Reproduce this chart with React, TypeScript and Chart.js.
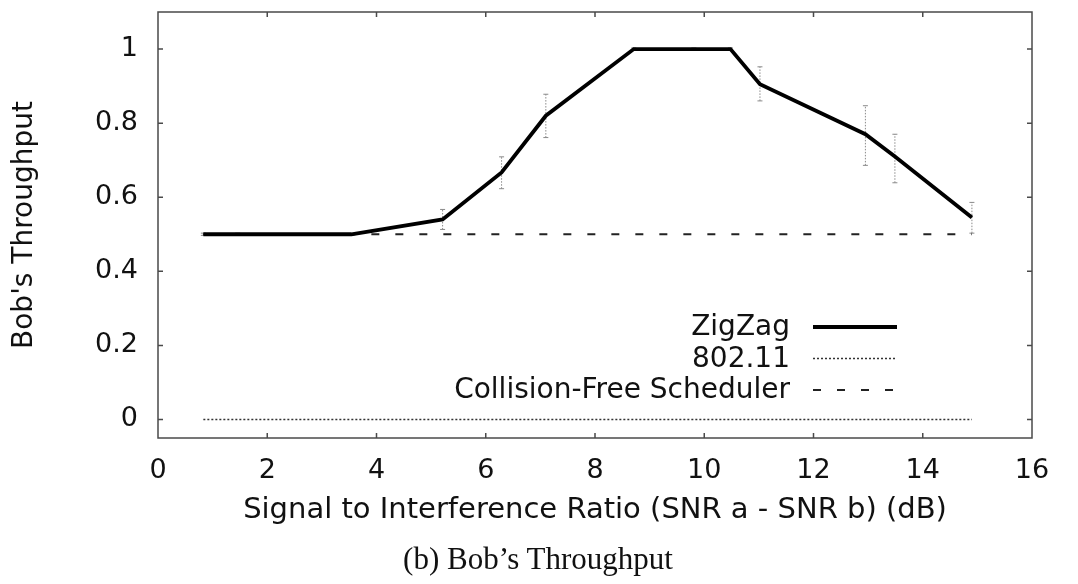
import React, { useEffect, useRef } from "react";
import { Chart, registerables } from "chart.js";

Chart.register(...registerables);

// ---- data ----
const snrValues = [0.83, 1.46, 3.54, 5.21, 6.29, 7.1, 8.71, 9.81, 10.48, 11.02, 12.95, 13.49, 14.9];
const zigzagValues = [0.5, 0.5, 0.5, 0.54, 0.667, 0.82, 1.0, 1.0, 1.0, 0.905, 0.77, 0.71, 0.545];
const zigzagErrLow = [0.497, 0.497, 0.498, 0.513, 0.623, 0.761, 0.997, 0.997, 0.997, 0.86, 0.686, 0.639, 0.503];
const zigzagErrHigh = [0.503, 0.503, 0.502, 0.567, 0.709, 0.878, 1.003, 1.003, 1.003, 0.952, 0.847, 0.77, 0.586];
const wifiValues = [0, 0, 0, 0, 0, 0, 0, 0, 0, 0, 0, 0, 0];
const schedulerValues = [0.5, 0.5, 0.5, 0.5, 0.5, 0.5, 0.5, 0.5, 0.5, 0.5, 0.5, 0.5, 0.5];
const seriesLabels = ["ZigZag", "802.11", "Collision-Free Scheduler"];
const xTickValues = [0, 2, 4, 6, 8, 10, 12, 14, 16];
const yTickValues = [0, 0.2, 0.4, 0.6, 0.8, 1];
const xTitle = "Signal to Interference Ratio (SNR a - SNR b) (dB)";
const yTitle = "Bob's Throughput";
const caption = "(b) Bob\u2019s Throughput";

const SANS = "'DejaVu Sans', 'Liberation Sans', Arial, sans-serif";
const SERIF = "'Liberation Serif', 'Times New Roman', serif";

const pts = (ys: number[]) => snrValues.map((x, i) => ({ x, y: ys[i] }));

const frameAndTicks = {
  id: "frameAndTicks",
  afterDatasetsDraw(chart: any) {
    const { ctx, chartArea: a, scales } = chart;
    const xs = scales.x;
    const ys = scales.y;
    ctx.save();
    ctx.strokeStyle = "#4a4a4a";
    ctx.lineWidth = 1.5;
    ctx.setLineDash([]);
    ctx.strokeRect(a.left, a.top, a.right - a.left, a.bottom - a.top);
    const L = 5;
    ctx.beginPath();
    xTickValues.forEach((v) => {
      const px = xs.getPixelForValue(v);
      if (px <= a.left + 1 || px >= a.right - 1) return;
      ctx.moveTo(px, a.bottom);
      ctx.lineTo(px, a.bottom - L);
      ctx.moveTo(px, a.top);
      ctx.lineTo(px, a.top + L);
    });
    yTickValues.forEach((v) => {
      const py = ys.getPixelForValue(v);
      ctx.moveTo(a.left, py);
      ctx.lineTo(a.left + L, py);
      ctx.moveTo(a.right, py);
      ctx.lineTo(a.right - L, py);
    });
    ctx.stroke();
    ctx.restore();
  },
};

const errorBars = {
  id: "errorBars",
  beforeDatasetsDraw(chart: any) {
    const { ctx, scales } = chart;
    const xs = scales.x;
    const ys = scales.y;
    ctx.save();
    ctx.strokeStyle = "#8a8a8a";
    ctx.lineWidth = 1;
    snrValues.forEach((x, i) => {
      const px = xs.getPixelForValue(x);
      const lo = ys.getPixelForValue(zigzagErrLow[i]);
      const hi = ys.getPixelForValue(zigzagErrHigh[i]);
      ctx.setLineDash([1.5, 1.5]);
      ctx.beginPath();
      ctx.moveTo(px, lo);
      ctx.lineTo(px, hi);
      ctx.stroke();
      ctx.setLineDash([]);
      ctx.beginPath();
      ctx.moveTo(px - 2.5, lo);
      ctx.lineTo(px + 2.5, lo);
      ctx.moveTo(px - 2.5, hi);
      ctx.lineTo(px + 2.5, hi);
      ctx.stroke();
    });
    ctx.restore();
  },
};

const insideLegend = {
  id: "insideLegend",
  afterDraw(chart: any) {
    const { ctx, chartArea: a } = chart;
    const sampleEnd = a.right - 135;
    const sampleStart = sampleEnd - 84;
    const textRight = sampleStart - 23;
    const top = a.top + 315;
    const step = 31.5;
    ctx.save();
    ctx.font = `28px ${SANS}`;
    ctx.fillStyle = "#111";
    ctx.textAlign = "right";
    ctx.textBaseline = "middle";
    chart.data.datasets.forEach((ds: any, i: number) => {
      const y = top + i * step;
      ctx.fillText(ds.label, textRight, y + 1);
      ctx.strokeStyle = ds.borderColor;
      ctx.lineWidth = ds.borderWidth;
      ctx.setLineDash(ds.borderDash || []);
      ctx.beginPath();
      ctx.moveTo(sampleStart, y);
      ctx.lineTo(sampleEnd, y);
      ctx.stroke();
    });
    ctx.restore();
  },
};

export default function App() {
  const ref = useRef<HTMLCanvasElement | null>(null);
  useEffect(() => {
    if (!ref.current) return;
    const chart = new Chart(ref.current, {
      type: "line",
      data: {
        datasets: [
          {
            label: seriesLabels[0],
            data: pts(zigzagValues),
            borderColor: "#000",
            borderWidth: 3.8,
            pointRadius: 0,
            tension: 0,
          },
          {
            label: seriesLabels[1],
            data: pts(wifiValues),
            borderColor: "#333",
            borderWidth: 1.5,
            borderDash: [2, 2],
            pointRadius: 0,
          },
          {
            label: seriesLabels[2],
            data: pts(schedulerValues),
            borderColor: "#222",
            borderWidth: 2,
            borderDash: [8, 16],
            pointRadius: 0,
          },
        ],
      },
      options: {
        responsive: false,
        animation: false,
        layout: { padding: { left: 0, right: 46, top: 12, bottom: 44 } },
        plugins: {
          legend: { display: false },
          tooltip: { enabled: false },
          title: { display: false },
        },
        scales: {
          x: {
            type: "linear",
            min: 0,
            max: 16,
            afterBuildTicks: (s: any) => {
              s.ticks = xTickValues.map((v) => ({ value: v }));
            },
            afterFit: (s: any) => {
              s.height = 102;
              s.paddingLeft = 0;
              s.paddingRight = 0;
            },
            grid: { display: false, drawTicks: false },
            border: { display: false },
            ticks: {
              color: "#111",
              padding: 17,
              maxRotation: 0,
              font: { family: SANS, size: 27 },
            },
            title: {
              display: true,
              text: xTitle,
              color: "#111",
              font: { family: SANS, size: 29 },
              padding: { top: 0, bottom: 12 },
            },
          },
          y: {
            type: "linear",
            min: -0.05,
            max: 1.1,
            afterBuildTicks: (s: any) => {
              s.ticks = yTickValues.map((v) => ({ value: v }));
            },
            afterFit: (s: any) => {
              s.width = 158;
              s.paddingTop = 0;
              s.paddingBottom = 0;
            },
            grid: { display: false, drawTicks: false },
            border: { display: false },
            ticks: {
              color: "#111",
              padding: 20,
              font: { family: SANS, size: 27 },
              callback: (v: any) => String(Math.round(Number(v) * 10) / 10),
            },
            title: {
              display: true,
              text: yTitle,
              color: "#111",
              font: { family: SANS, size: 28 },
              padding: { top: 8, bottom: 0 },
            },
          },
        },
      },
      plugins: [errorBars, frameAndTicks, insideLegend],
    } as any);
    return () => chart.destroy();
  }, []);

  return (
    <div style={{ position: "absolute", left: 0, top: 0, width: 1078, height: 584, background: "#fff" }}>
      <canvas ref={ref} width={1078} height={584} style={{ display: "block" }} />
      <div
        style={{
          position: "absolute",
          left: 538,
          top: 558,
          transform: "translate(-50%, -50%)",
          fontFamily: SERIF,
          fontSize: 31,
          color: "#111",
          whiteSpace: "nowrap",
          lineHeight: 1,
        }}
      >
        {caption}
      </div>
    </div>
  );
}
